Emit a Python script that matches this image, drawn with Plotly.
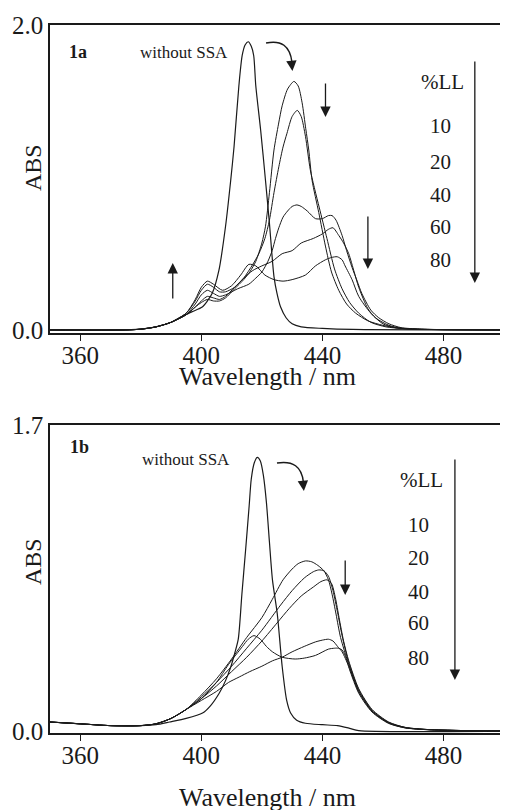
import plotly.graph_objects as go

# ---------------- data: panel 1a ----------------
wl_a_without = [350, 370, 380, 385, 390, 393.7, 397, 400.3, 402, 403.6, 405.8, 408, 409.7, 410.8, 412.4, 413.5, 414.5, 415.5, 416.5, 417.3, 418, 419.6, 421.2, 422.5, 424, 425, 426.2, 428, 430, 433, 440, 450, 500]
abs_a_without = [0, 0, 0.005, 0.02, 0.05, 0.09, 0.12, 0.15, 0.19, 0.24, 0.39, 0.68, 0.98, 1.2, 1.6, 1.8, 1.87, 1.89, 1.86, 1.8, 1.6, 1.31, 0.98, 0.7, 0.35, 0.24, 0.15, 0.08, 0.04, 0.02, 0.01, 0.003, 0]

wl_a_10 = [350, 375, 380, 385, 390, 395, 398, 400, 402, 404, 406, 408, 411, 414, 416, 418, 420, 421.2, 422.5, 424, 425.5, 426.7, 428.5, 430.6, 432, 433.3, 434.5, 435.5, 436.6, 438.8, 441, 443, 445.4, 448, 451, 455, 460, 465, 470, 480, 500]
abs_a_10 = [0, 0, 0.005, 0.02, 0.05, 0.1, 0.15, 0.18, 0.2, 0.19, 0.19, 0.21, 0.27, 0.33, 0.38, 0.45, 0.57, 0.68, 0.9, 1.18, 1.35, 1.47, 1.58, 1.63, 1.6, 1.49, 1.32, 1.18, 0.98, 0.77, 0.55, 0.38, 0.26, 0.17, 0.11, 0.06, 0.03, 0.012, 0.005, 0.002, 0]

wl_a_20 = [350, 375, 380, 385, 390, 395, 398, 400, 402, 404, 406, 408, 411, 414, 417, 419, 421, 422.5, 424, 425.6, 427, 428.3, 430, 431.7, 433, 434.4, 436, 437.5, 439, 441.5, 444, 446.5, 449, 452, 456, 461, 466, 472, 480, 500]
abs_a_20 = [0, 0, 0.005, 0.02, 0.05, 0.1, 0.15, 0.19, 0.22, 0.21, 0.2, 0.22, 0.28, 0.34, 0.43, 0.5, 0.6, 0.72, 0.9, 1.07, 1.2, 1.29, 1.4, 1.44, 1.4, 1.27, 1.05, 0.92, 0.8, 0.6, 0.4, 0.27, 0.18, 0.11, 0.05, 0.02, 0.01, 0.004, 0.002, 0]

wl_a_40 = [350, 375, 380, 385, 390, 395, 398, 400, 402, 404, 406, 408, 412, 415.7, 418, 420, 422, 423.4, 424.5, 425.6, 427, 428.5, 430, 431.6, 433, 435, 437.7, 440, 442, 443.2, 444.5, 446.5, 448, 449.8, 451.5, 453, 456, 458.6, 462, 466, 472, 480, 500]
abs_a_40 = [0, 0, 0.005, 0.02, 0.05, 0.1, 0.17, 0.23, 0.26, 0.24, 0.22, 0.23, 0.27, 0.3, 0.34, 0.38, 0.45, 0.52, 0.6, 0.67, 0.74, 0.78, 0.81, 0.82, 0.81, 0.78, 0.73, 0.73, 0.75, 0.75, 0.72, 0.62, 0.52, 0.41, 0.32, 0.24, 0.13, 0.08, 0.04, 0.015, 0.006, 0.002, 0]

wl_a_60 = [350, 375, 380, 385, 390, 395, 398, 400, 402, 404, 406, 408, 411, 414, 417, 420, 423.4, 426.7, 430, 433, 437, 440, 442, 443.5, 445.4, 447, 448.7, 450.5, 452, 455, 457.5, 462, 466, 472, 480, 500]
abs_a_60 = [0, 0, 0.005, 0.02, 0.05, 0.11, 0.19, 0.26, 0.3, 0.28, 0.25, 0.25, 0.28, 0.34, 0.39, 0.42, 0.45, 0.5, 0.52, 0.57, 0.6, 0.63, 0.66, 0.67, 0.62, 0.57, 0.5, 0.38, 0.28, 0.14, 0.08, 0.03, 0.012, 0.005, 0.002, 0]

wl_a_80 = [350, 375, 380, 385, 390, 395, 398, 400, 402, 404, 407, 410, 413, 415.7, 418, 421, 424, 427, 430, 434.4, 437.7, 441, 443, 444.9, 446.5, 447.5, 449.8, 452, 456, 460, 464, 470, 480, 500]
abs_a_80 = [0, 0, 0.005, 0.02, 0.05, 0.11, 0.2, 0.28, 0.32, 0.3, 0.26, 0.29, 0.36, 0.43, 0.42, 0.36, 0.33, 0.32, 0.33, 0.36, 0.42, 0.46, 0.475, 0.48, 0.46, 0.42, 0.33, 0.22, 0.11, 0.04, 0.015, 0.005, 0.002, 0]

# ---------------- data: panel 1b ----------------
wl_b_without = [350, 355, 360, 370, 380, 385, 389.5, 395, 400.4, 403, 405.9, 408, 409.8, 411, 412.2, 413.4, 414.6, 415.8, 416.5, 417.5, 418.5, 419.5, 420.5, 421.5, 422.5, 423.5, 425.1, 426.7, 428.2, 429.5, 431.5, 434.4, 440, 445, 449, 452, 500]
abs_b_without = [0.05, 0.045, 0.04, 0.03, 0.03, 0.035, 0.05, 0.07, 0.1, 0.14, 0.21, 0.28, 0.36, 0.43, 0.51, 0.76, 1.0, 1.25, 1.4, 1.49, 1.52, 1.5, 1.42, 1.27, 1.05, 0.84, 0.65, 0.36, 0.17, 0.1, 0.06, 0.043, 0.035, 0.03, 0.015, 0.002, 0]

wl_b_10 = [350, 355, 360, 370, 380, 385, 390, 395, 400, 405, 410, 415, 420, 423.4, 427, 430, 432, 434.4, 436.5, 438.5, 440.5, 442, 443.2, 444.5, 446, 448.7, 452, 456.4, 461.9, 467.4, 475, 485, 500]
abs_b_10 = [0.05, 0.045, 0.04, 0.03, 0.03, 0.04, 0.07, 0.12, 0.2, 0.29, 0.4, 0.52, 0.63, 0.73, 0.84, 0.9, 0.93, 0.945, 0.94, 0.92, 0.89, 0.84, 0.76, 0.65, 0.52, 0.37, 0.22, 0.11, 0.045, 0.018, 0.008, 0.003, 0]

wl_b_20 = [350, 355, 360, 370, 380, 385, 390, 395, 400, 405, 410, 415, 420, 426.2, 430, 434, 437, 438.8, 440.5, 442, 443.5, 445, 446.5, 448.7, 452, 456.4, 461.9, 467.4, 475, 485, 500]
abs_b_20 = [0.05, 0.045, 0.04, 0.03, 0.03, 0.04, 0.07, 0.12, 0.19, 0.27, 0.36, 0.46, 0.56, 0.7, 0.78, 0.85, 0.885, 0.895, 0.89, 0.86, 0.78, 0.66, 0.53, 0.38, 0.23, 0.115, 0.048, 0.02, 0.008, 0.003, 0]

wl_b_40 = [350, 355, 360, 370, 380, 385, 390, 395, 400, 405, 410, 415, 420, 425, 429, 433, 437, 439.5, 441.5, 443, 444.3, 445.5, 447, 448.7, 452, 456.4, 461.9, 467.4, 475, 485, 500]
abs_b_40 = [0.05, 0.045, 0.04, 0.03, 0.03, 0.04, 0.07, 0.12, 0.18, 0.25, 0.33, 0.41, 0.5, 0.6, 0.68, 0.75, 0.8, 0.83, 0.84, 0.82, 0.74, 0.63, 0.5, 0.39, 0.235, 0.12, 0.05, 0.02, 0.008, 0.003, 0]

wl_b_60 = [350, 355, 360, 370, 380, 385, 390, 395, 400, 405, 409, 412.5, 416, 420, 423.5, 426.7, 430, 434, 437.7, 440, 442, 443.5, 445, 446.5, 448.7, 452, 456.4, 461.9, 467.4, 475, 485, 500]
abs_b_60 = [0.05, 0.045, 0.04, 0.03, 0.03, 0.04, 0.07, 0.12, 0.17, 0.22, 0.27, 0.3, 0.33, 0.36, 0.39, 0.41, 0.44, 0.47, 0.495, 0.505, 0.51, 0.5, 0.47, 0.44, 0.36, 0.22, 0.11, 0.045, 0.018, 0.007, 0.003, 0]

wl_b_80 = [350, 355, 360, 370, 380, 385, 390, 395, 400, 405, 409, 413.6, 415.5, 417.4, 419.5, 421.5, 423.5, 426.7, 431, 434, 437.7, 442, 444, 445.4, 446.5, 447.5, 449, 452, 456.4, 461.9, 467.4, 475, 485, 500]
abs_b_80 = [0.05, 0.045, 0.04, 0.03, 0.03, 0.04, 0.07, 0.12, 0.18, 0.27, 0.37, 0.47, 0.51, 0.53, 0.51, 0.47, 0.44, 0.41, 0.40, 0.405, 0.42, 0.455, 0.46, 0.46, 0.45, 0.42, 0.34, 0.21, 0.105, 0.042, 0.017, 0.007, 0.003, 0]

x_tickvals = [360, 400, 440, 480]
x_ticktext = ["360", "400", "440", "480"]
legend_levels = ["10", "20", "40", "60", "80"]

FONT = "Liberation Serif, Times New Roman, serif"
INK = "#1a1a1a"

# The page body has an 8 px margin; the figure is sized so the plot areas land
# at page pixels x 50..506, y 25..333 and 425..733.
BODY = 8

fig = go.Figure()

series_a = [(wl_a_without, abs_a_without), (wl_a_10, abs_a_10), (wl_a_20, abs_a_20),
            (wl_a_40, abs_a_40), (wl_a_60, abs_a_60), (wl_a_80, abs_a_80)]
series_b = [(wl_b_without, abs_b_without), (wl_b_10, abs_b_10), (wl_b_20, abs_b_20),
            (wl_b_40, abs_b_40), (wl_b_60, abs_b_60), (wl_b_80, abs_b_80)]

for i, (xs, ys) in enumerate(series_a):
    fig.add_trace(go.Scatter(x=xs, y=ys, mode="lines", xaxis="x", yaxis="y",
                             line=dict(color=INK, width=1.2 if i == 0 else 1.0, shape="spline", smoothing=0.7),
                             showlegend=False, hoverinfo="skip"))
for i, (xs, ys) in enumerate(series_b):
    fig.add_trace(go.Scatter(x=xs, y=ys, mode="lines", xaxis="x2", yaxis="y2",
                             line=dict(color=INK, width=1.2 if i == 0 else 1.0, shape="spline", smoothing=0.7),
                             showlegend=False, hoverinfo="skip"))

axis_common = dict(showline=True, mirror=True, linecolor=INK, linewidth=1.5,
                   showgrid=False, zeroline=False,
                   tickfont=dict(family=FONT, size=25, color=INK))

fig.update_layout(
    width=508 - BODY, height=810 - BODY,
    margin=dict(l=50 - BODY, r=2, t=25 - BODY, b=77),
    paper_bgcolor="white", plot_bgcolor="white",
    xaxis=dict(domain=[0, 1], range=[350, 500], anchor="y", tickvals=x_tickvals, ticktext=x_ticktext,
               ticks="outside", ticklen=6, tickwidth=1.2, tickcolor=INK, ticklabelstandoff=-7, **axis_common),
    yaxis=dict(domain=[0.565, 1], range=[-0.02, 2.0], anchor="x", tickvals=[0, 2.0], ticktext=["0.0", "2.0"],
               ticks="", **axis_common),
    xaxis2=dict(domain=[0, 1], range=[350, 500], anchor="y2", tickvals=x_tickvals, ticktext=x_ticktext,
                ticks="outside", ticklen=6, tickwidth=1.2, tickcolor=INK, ticklabelstandoff=-7, **axis_common),
    yaxis2=dict(domain=[0, 0.435], range=[-0.011, 1.7], anchor="x2", tickvals=[0, 1.7], ticktext=["0.0", "1.7"],
                ticks="", **axis_common),
)

# page pixel -> paper helpers for annotation placement
def px(xp):
    return (xp - 50) / 456.0

def py(yp):
    return (733 - yp) / 708.0

anns = []

def text(x, y, s, size, bold=False, angle=0):
    anns.append(dict(x=px(x), y=py(y), xref="paper", yref="paper", text=("<b>%s</b>" % s) if bold else s,
                     showarrow=False, xanchor="center", yanchor="middle", textangle=angle,
                     font=dict(family=FONT, size=size, color=INK)))

def arrow(x, y_tip, y_tail, ax=0):
    anns.append(dict(x=px(x), y=py(y_tip), xref="paper", yref="paper", text="", showarrow=True,
                     ax=ax, ay=y_tail - y_tip, axref="pixel", ayref="pixel",
                     arrowhead=2, arrowsize=1.6, arrowwidth=1.3, arrowcolor=INK))

# axis titles
text(33, 168, "ABS", 24, angle=-90)
text(33, 562, "ABS", 24, angle=-90)
text(268, 376, "Wavelength / nm", 26)
text(268, 798, "Wavelength / nm", 26)

# panel 1a labels
text(78, 52, "1a", 18, bold=True)
text(185, 53, "without SSA", 17)
text(444, 82, "%LL", 21)
for lbl, yy in zip(legend_levels, [126, 161.7, 195, 226.7, 260]):
    text(442.5, yy, lbl, 21)
arrow(326.7, 117, 82)
arrow(369.3, 269, 215)
arrow(173.3, 263, 300)
arrow(476.7, 283, 60)
arrow(293.5, 71, 61, ax=-1)

# panel 1b labels
text(80, 446.7, "1b", 18, bold=True)
text(187, 459.3, "without SSA", 17)
text(423, 480, "%LL", 21)
for lbl, yy in zip(legend_levels, [525, 558.3, 591.7, 623.3, 658.3]):
    text(420, yy, lbl, 21)
arrow(346.5, 595, 559)
arrow(456.7, 680, 458)
arrow(305, 491, 481, ax=-1)

fig.update_layout(annotations=anns)

# curved parts of the bent arrows
def curve(x0, y0, cx, cy, x1, y1):
    return dict(type="path", xref="paper", yref="paper",
                path="M %f,%f Q %f,%f %f,%f" % (px(x0), py(y0), px(cx), py(cy), px(x1), py(y1)),
                line=dict(color=INK, width=1.5))

fig.update_layout(shapes=[
    curve(267, 43, 290, 38, 293, 62),
    curve(278, 463, 302, 459, 304.5, 482),
])

fig.write_html("out.html")
